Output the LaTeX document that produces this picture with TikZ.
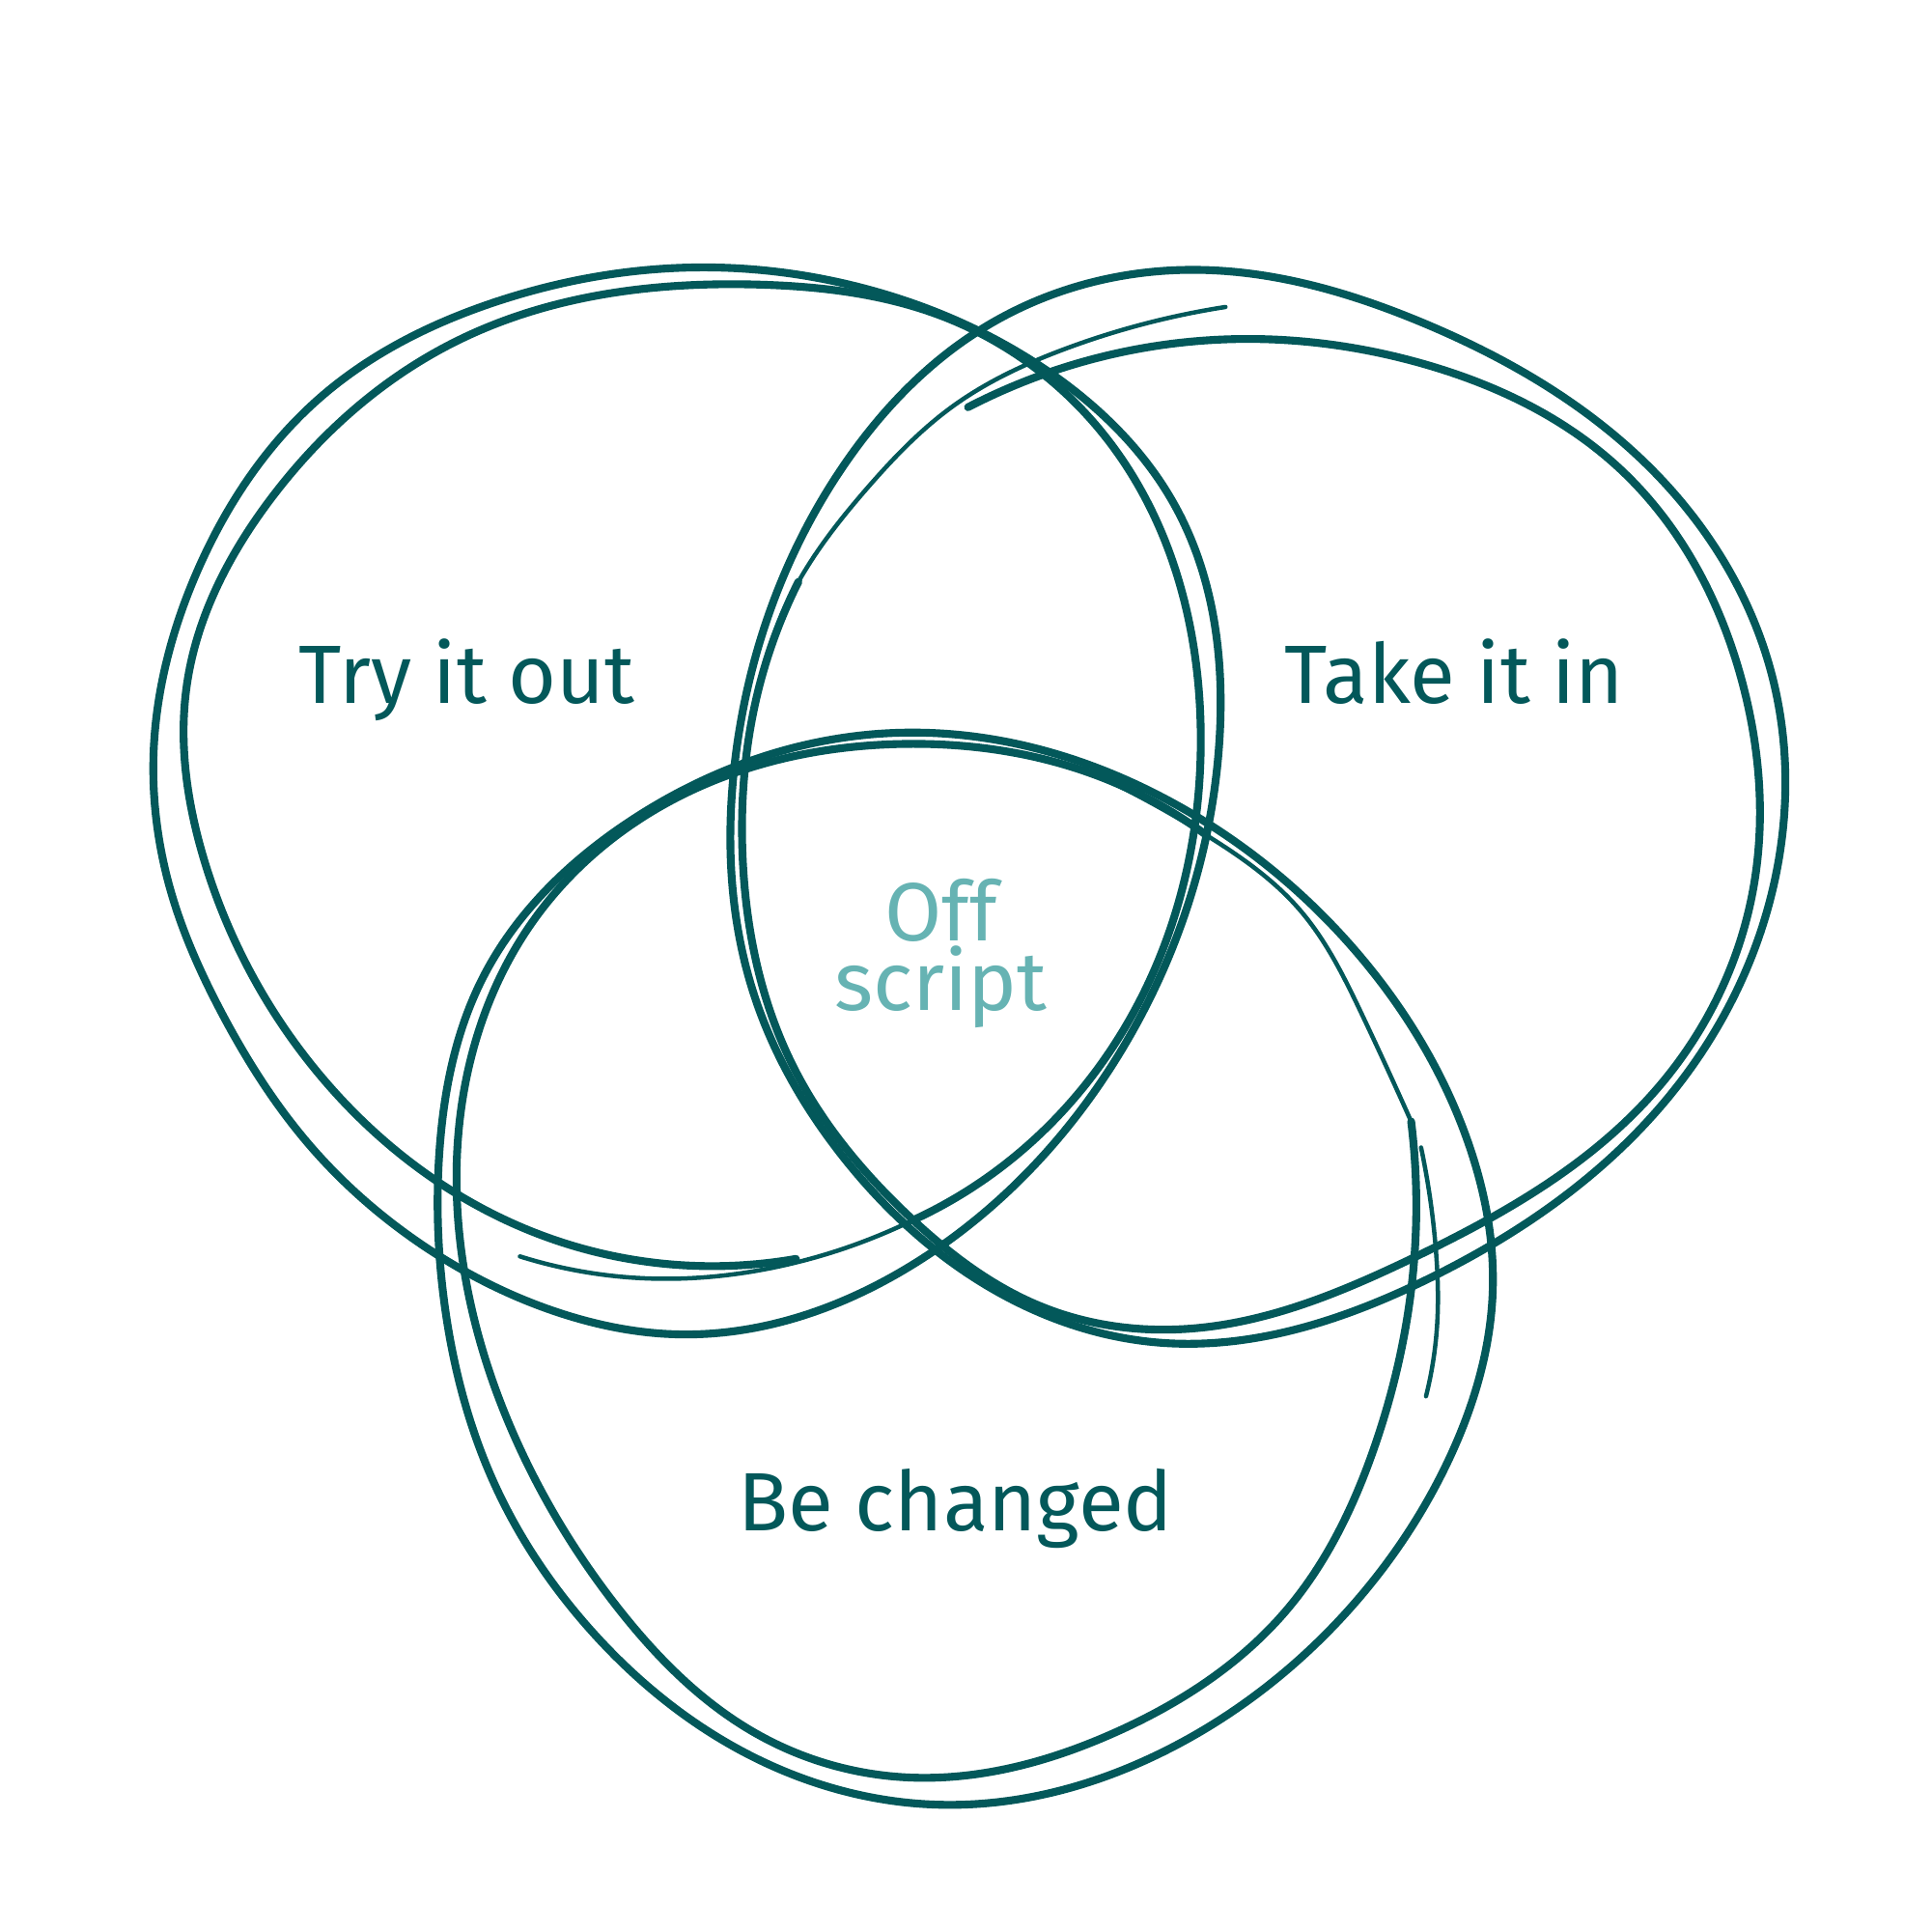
\documentclass[tikz,border=0pt]{standalone}
\usepackage{fontspec}
\setmainfont{Fira Sans}
\usetikzlibrary{hobby}
\definecolor{loopteal}{HTML}{03585A}
\definecolor{offteal}{HTML}{66B3B3}

\begin{document}
\begin{tikzpicture}[x=0.01cm,y=-0.01cm,
 sketch/.style={draw=loopteal,line width=1.8pt,line cap=round,line join=round},
 sketchthin/.style={sketch,line width=1pt},
 vennlabel/.style={text=loopteal,font=\fontsize{19}{23}\selectfont,inner sep=0pt}]
\useasboundingbox (0,0) rectangle (1560,1560);
\draw[sketch] plot[closed hobby] coordinates {(567,216) (400,244) (260,320) (160,460) (124,610) (138,720) (180,820) (250,925) (340,1005) (450,1060) (549,1078) (740,1020) (905,850) (985,600) (950,410) (851,303) (702,234)};
\draw[sketch] plot[hobby] coordinates {(643,1017) (430,995) (258,868) (165,695) (151,553) (218,404) (370,275) (616,230) (760,255) (900,362) (970,590) (926,798) (802,948) (737,986)};
\draw[sketchthin] plot[hobby] coordinates {(802,948) (737,986) (620,1025) (530,1033) (420,1015)};
\draw[sketch] plot[closed hobby] coordinates {(594,613) (608,800) (683,937) (803,1042) (941,1085) (1150,1035) (1349,885) (1436,700) (1430,540) (1340,385) (1150,261) (961,218) (796,264) (683,374)};
\draw[sketch] plot[hobby] coordinates {(782,329) (995,274) (1150,294) (1310,380) (1408,553) (1416,720) (1340,878) (1140,1017) (966,1073) (840,1055) (737,985) (640,860) (600,694) (612,560) (645,470)};
\draw[sketchthin] plot[hobby] coordinates {(612,560) (645,470) (700,395) (770,328) (860,282) (990,248)};
\draw[sketch] plot[closed hobby] coordinates {(725,592) (950,650) (1100,774) (1185,920) (1206,1040) (1170,1180) (1090,1300) (950,1410) (760,1458) (600,1415) (480,1320) (400,1200) (360,1060) (355,930) (390,790) (505,666)};
\draw[sketch] plot[hobby] coordinates {(1140,906) (1143,1010) (1110,1170) (1040,1300) (900,1400) (735,1436) (610,1400) (500,1300) (420,1170) (374,1020) (372,900) (430,745) (540,648) (730,601) (890,628) (975,675)};
\draw[sketchthin] plot[hobby] coordinates {(890,628) (975,675) (1050,735) (1100,819) (1140,906)};
\draw[sketchthin] plot[hobby] coordinates {(1148,927) (1160,1010) (1161,1070) (1152,1128)};
\node[vennlabel,anchor=base] (tryout) at (377,568) {Try it out};
\node[vennlabel,anchor=base] (takein) at (1175,568) {Take it in};
\node[vennlabel,anchor=base] (changed) at (772,1237) {Be changed};
\node[vennlabel,text=offteal,align=center,font=\fontsize{19}{16}\selectfont] (offscript) at (760,770) {Off\\script};
\end{tikzpicture}
\end{document}
